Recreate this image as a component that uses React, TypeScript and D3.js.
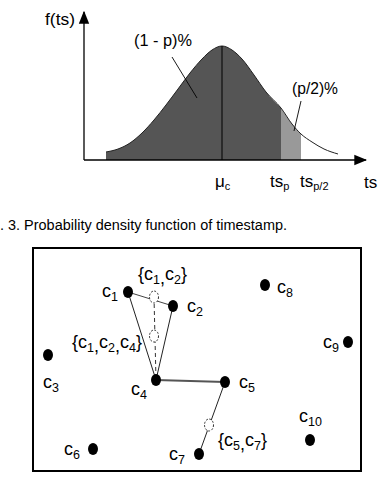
import React from "react";
import * as d3 from "d3";

// density curve samples (ts, f)
const curveTs = [22, 34, 46, 58, 70, 82, 94, 106, 118, 128, 138, 148, 158, 170, 182, 197, 208, 217, 228, 240, 254];
const curveF = [8, 11, 17, 27, 40, 55, 71, 87, 101, 110, 114, 110, 101, 85, 68, 52, 36, 26, 18, 11, 6];
const meanTs = 138;
const tsP = 197;
const tsP2 = 217;

// cluster points
const pointNames = ["1", "2", "3", "4", "5", "6", "7", "8", "9", "10"];
const pointX = [95, 140, 15, 123, 192, 60, 166, 232, 315, 277];
const pointY = [44, 58, 107, 132, 134, 201, 206, 37, 94, 192];
const mergedNames = ["c1,c2", "c1,c2,c4", "c5,c7"];
const mergedX = [121, 121, 176];
const mergedY = [49, 88, 177];

const FONT = "'Liberation Sans Narrow', 'Arial Narrow', 'Liberation Sans', Arial, sans-serif";

export default function App() {
  const W = 380, H = 484;
  const x = d3.scaleLinear().domain([0, 280]).range([84, 364]);
  const y = d3.scaleLinear().domain([0, 120]).range([160, 40]);
  const pts = curveTs.map((t, i) => [t, curveF[i]] as [number, number]);

  const fBy = (t: number) => {
    for (let i = 0; i < curveTs.length - 1; i++) {
      if (t >= curveTs[i] && t <= curveTs[i + 1]) {
        const k = (t - curveTs[i]) / (curveTs[i + 1] - curveTs[i]);
        return curveF[i] + k * (curveF[i + 1] - curveF[i]);
      }
    }
    return 0;
  };
  const area = d3.area<[number, number]>().x(d => x(d[0])).y0(y(0)).y1(d => y(d[1])).curve(d3.curveMonotoneX);
  const line = d3.line<[number, number]>().x(d => x(d[0])).y(d => y(d[1])).curve(d3.curveMonotoneX);
  const darkPts = pts.filter(p => p[0] <= tsP);
  const lightPts: [number, number][] = [[tsP, fBy(tsP)], ...pts.filter(p => p[0] > tsP && p[0] < tsP2), [tsP2, fBy(tsP2)]];

  const bx = d3.scaleLinear().domain([0, 328]).range([33, 361]);
  const by = d3.scaleLinear().domain([0, 223]).range([248, 471]);
  const P = (i: number) => [bx(pointX[i]), by(pointY[i])];
  const M = (i: number) => [bx(mergedX[i]), by(mergedY[i])];

  const labelOffsets: [number, number][] = [
    [-26, 5], [14, 6], [-5, 33], [-25, 15], [14, 6],
    [-29, 6], [-30, 6], [12, 8], [-25, 6], [-11, -18],
  ];

  const sub = (name: string) => (
    <>
      <tspan>c</tspan>
      <tspan fontSize={12.5} dy={4}>{name}</tspan>
    </>
  );
  const setLabel = (s: string) => {
    const parts = s.split(",");
    const out: any[] = [<tspan key="o">{"{"}</tspan>];
    parts.forEach((p, i) => {
      out.push(<tspan key={"c" + i} dy={i === 0 ? 0 : -4}>c</tspan>);
      out.push(<tspan key={"s" + i} fontSize={12.5} dy={4}>{p.replace("c", "")}</tspan>);
      if (i < parts.length - 1) out.push(<tspan key={"k" + i}>,</tspan>);
    });
    out.push(<tspan key="e" dy={-4}>{"}"}</tspan>);
    return out;
  };
  const mergedLabelPos: [number, number][] = [[138, 280], [72, 348], [218, 446]];

  const [c1, c2, , c4, c5, , c7] = [0, 1, 2, 3, 4, 5, 6].map(P);
  const m12 = M(0);

  return (
    <svg width={W} height={H} style={{ position: "absolute", left: 0, top: 0, background: "#fff" }} fontFamily={FONT}>
      <defs>
        <marker id="arr" viewBox="0 0 10 10" refX="9" refY="5" markerWidth="10" markerHeight="10" orient="auto">
          <path d="M0,1 L10,5 L0,9 Z" fill="#000" />
        </marker>
      </defs>
      {/* density plot */}
      <path d={area(darkPts) || ""} fill="#555" />
      <path d={area(lightPts) || ""} fill="#999" />
      <path d={line(pts) || ""} fill="none" stroke="#222" strokeWidth={1} />
      <line x1={x(meanTs)} x2={x(meanTs)} y1={y(fBy(meanTs))} y2={y(0)} stroke="#000" strokeWidth={1} />
      <line x1={x(0)} y1={y(0)} x2={x(0)} y2={12} stroke="#000" strokeWidth={1.3} markerEnd="url(#arr)" />
      <line x1={x(0)} y1={y(0)} x2={366} y2={y(0)} stroke="#000" strokeWidth={1.3} markerEnd="url(#arr)" />
      <text x={45} y={25} fontSize={17} textLength={30} lengthAdjust="spacingAndGlyphs">f(ts)</text>
      <text x={134} y={46} fontSize={17} textLength={58} lengthAdjust="spacingAndGlyphs">(1 - p)%</text>
      <line x1={172} y1={57} x2={197} y2={98} stroke="#000" strokeWidth={0.9} />
      <text x={292} y={94} fontSize={17} textLength={46} lengthAdjust="spacingAndGlyphs">(p/2)%</text>
      <line x1={301} y1={101} x2={294} y2={131} stroke="#000" strokeWidth={0.9} />
      <text x={x(meanTs) - 7} y={187} fontSize={17}>μ<tspan fontSize={11} dy={3}>c</tspan></text>
      <text x={x(tsP) - 11} y={187} fontSize={17}>ts<tspan fontSize={11} dy={3}>p</tspan></text>
      <text x={x(tsP2) - 1} y={187} fontSize={17}>ts<tspan fontSize={11} dy={3}>p/2</tspan></text>
      <text x={364} y={188} fontSize={17}>ts</text>
      <text x={0} y={230} fontSize={15.5} textLength={287} lengthAdjust="spacingAndGlyphs">. 3. Probability density function of timestamp.</text>

      {/* clusters */}
      <rect x={bx(0)} y={by(0)} width={bx(328) - bx(0)} height={by(223) - by(0)} fill="none" stroke="#000" strokeWidth={2} />
      <line x1={c1[0]} y1={c1[1]} x2={c2[0]} y2={c2[1]} stroke="#444" strokeWidth={1} />
      <line x1={c1[0]} y1={c1[1]} x2={c4[0]} y2={c4[1]} stroke="#222" strokeWidth={1} />
      <line x1={c2[0]} y1={c2[1]} x2={c4[0]} y2={c4[1]} stroke="#222" strokeWidth={1} />
      <line x1={m12[0]} y1={m12[1]} x2={c4[0]} y2={c4[1]} stroke="#333" strokeWidth={1} strokeDasharray="4,3" />
      <line x1={c4[0]} y1={c4[1]} x2={c5[0]} y2={c5[1]} stroke="#555" strokeWidth={2} />
      <line x1={c5[0]} y1={c5[1]} x2={c7[0]} y2={c7[1]} stroke="#222" strokeWidth={1} />
      {mergedNames.map((n, i) => {
        const [cx, cy] = M(i);
        return <ellipse key={n} cx={cx} cy={cy} rx={4.5} ry={6} fill="#fff" stroke="#333" strokeWidth={1} strokeDasharray="2,1.5" />;
      })}
      {pointNames.map((n, i) => {
        const [cx, cy] = P(i);
        const [dx, dy] = labelOffsets[i];
        return (
          <g key={n}>
            <ellipse cx={cx} cy={cy} rx={5} ry={6} fill="#000" />
            <text x={cx + dx} y={cy + dy} fontSize={18}>{sub(n)}</text>
          </g>
        );
      })}
      {mergedNames.map((n, i) => (
        <text key={n} x={mergedLabelPos[i][0]} y={mergedLabelPos[i][1]} fontSize={18}>{setLabel(n)}</text>
      ))}
    </svg>
  );
}
